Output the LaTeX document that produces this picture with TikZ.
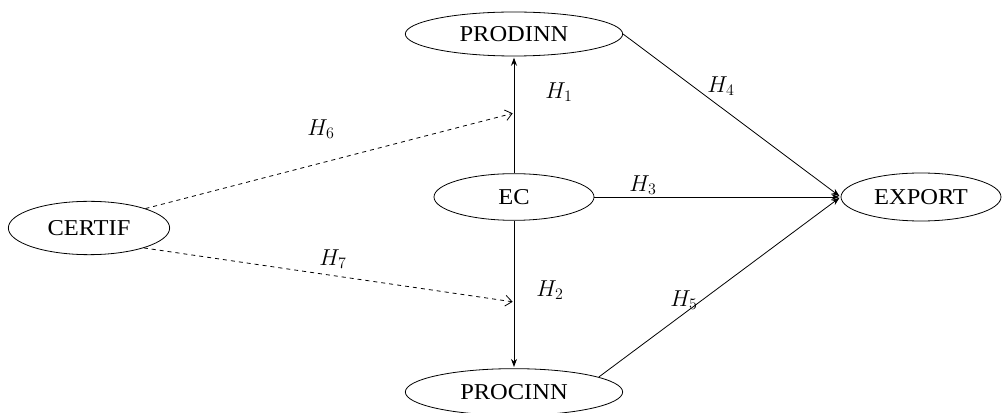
\documentclass[tikz,border=0pt]{standalone}
\usepackage{fontspec}
\setmainfont[FakeStretch=1.08]{Liberation Serif}
\usepackage{tikz}
\usetikzlibrary{arrows.meta,shapes.geometric}
\usepackage{amssymb}

\begin{document}
\begin{tikzpicture}[x=0.75pt,y=-0.75pt,>={Stealth[length=6pt,width=4.5pt]},shorten >=1pt,line width=0.6pt,var node/.style={ellipse,draw,inner sep=0pt,font=\fontsize{17}{20}\selectfont},hyp node/.style={font=\fontsize{17}{20}\selectfont}]
  \useasboundingbox (0,0) rectangle (1004,413);
  \node[var node,minimum width=163pt,minimum height=33pt] (prodinn) at (514,34) {PRODINN};
  \node[var node,minimum width=120pt,minimum height=35pt] (ec) at (514,197) {EC};
  \node[var node,minimum width=163pt,minimum height=35pt] (procinn) at (514,392) {PROCINN};
  \node[var node,minimum width=120pt,minimum height=36pt] (export) at (921,197) {EXPORT};
  \node[var node,minimum width=121pt,minimum height=40pt] (certif) at (89,228) {CERTIF};
  \coordinate (mid1) at (514,113);
  \coordinate (mid2) at (514,302);

\path[->]
  (ec) edge (prodinn)
  (ec) edge (procinn)
  (ec) edge (export.west)
  (prodinn.east) edge (export.west)
  (procinn.10) edge (export.west)
;
\path[-{Straight Barb[length=5pt,width=8pt]},dashed]
  (certif.19) edge (mid1)
  (certif.-20) edge (mid2)
;
  \node[hyp node] (h1) at (559,92) {$H_1$};
  \node[hyp node] (h2) at (550,290) {$H_2$};
  \node[hyp node] (h3) at (643,185) {$H_3$};
  \node[hyp node] (h4) at (721,86) {$H_4$};
  \node[hyp node] (h5) at (684,300) {$H_5$};
  \node[hyp node] (h6) at (321,129) {$H_6$};
  \node[hyp node] (h7) at (333,259) {$H_7$};
\end{tikzpicture}
\end{document}
